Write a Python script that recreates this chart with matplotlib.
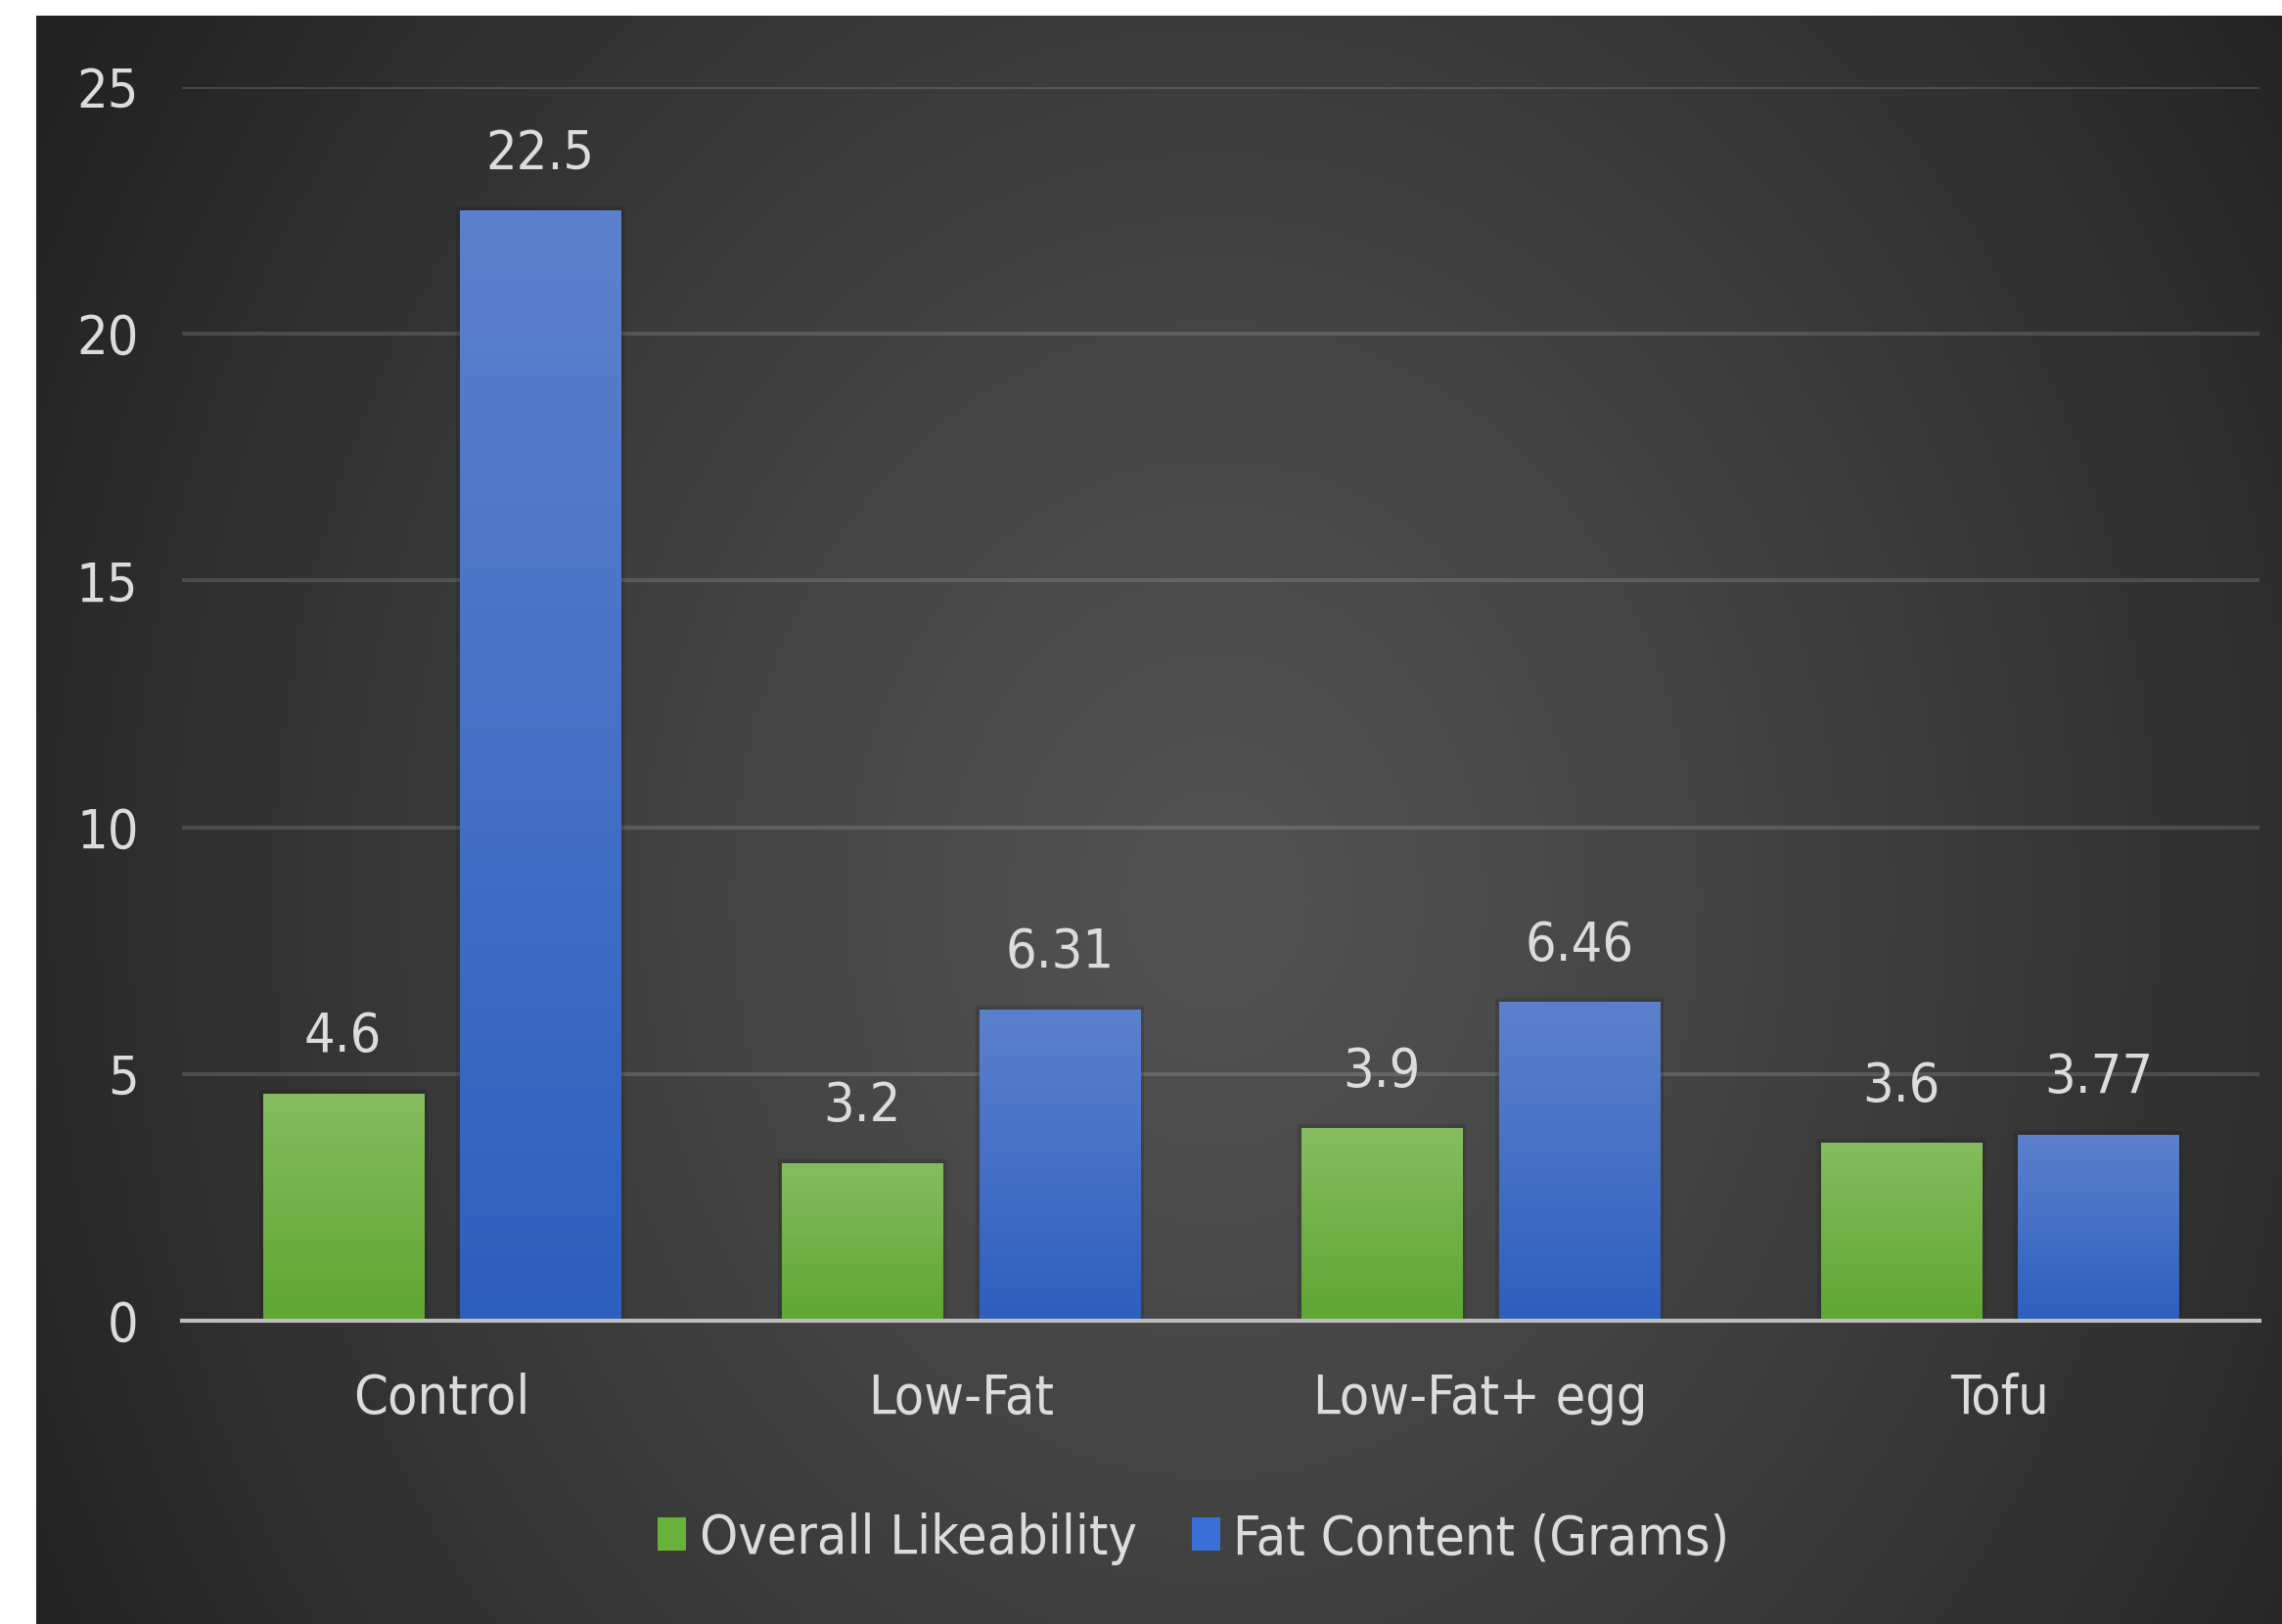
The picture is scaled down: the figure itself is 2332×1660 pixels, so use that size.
import matplotlib
matplotlib.use("agg")

from matplotlib import pyplot as plt
from matplotlib import patheffects as pe
from matplotlib import font_manager
from matplotlib.colors import LinearSegmentedColormap
from matplotlib.patches import Patch
import numpy as np

categories = ["Control", "Low-Fat", "Low-Fat+ egg", "Tofu"]
likeability = [4.6, 3.2, 3.9, 3.6]
fat_content = [22.5, 6.31, 6.46, 3.77]
series_names = ["Overall Likeability", "Fat Content (Grams)"]
yticks = [0, 5, 10, 15, 20, 25]

# narrow font if one is around
names = {f.name for f in font_manager.fontManager.ttflist}
if "Liberation Sans Narrow" in names:
    plt.rcParams['font.family'] = ['Liberation Sans Narrow', 'DejaVu Sans']
else:
    plt.rcParams['font.family'] = ['DejaVu Sans']
    plt.rcParams['font.stretch'] = 'condensed'
text_color = "#dcdcdc"
fs = 40

fig = plt.figure(figsize=(23.32, 16.6), dpi=100)
fig.patch.set_facecolor("white")

# radial background, lighter in the middle
bg = fig.add_axes([37 / 2332, 0, 1 - 37 / 2332, 1 - 16 / 1660], zorder=-5)
u = np.linspace(-1, 1, 600)
v = np.linspace(-1, 1, 430)
U, V = np.meshgrid(u, v)
r = np.sqrt((U - 0.05) ** 2 + (0.6 * (V + 0.1)) ** 2) / np.sqrt(2)
g = np.clip(82 - 58 * r ** 1.2, 34, 90) / 255.0
bg.imshow(np.dstack([g, g, g]), aspect="auto", extent=[0, 1, 0, 1], origin="lower")
bg.set_axis_off()

ax = fig.add_axes([186 / 2332, 310 / 1660, (2309 - 186) / 2332, (1350 - 89) / 1660])
ax.set_facecolor("none")

x = np.arange(len(categories))
w = 0.309
off = 0.19

green_cmap = LinearSegmentedColormap.from_list("g", ["#5fa632", "#86bc5e"])
blue_cmap = LinearSegmentedColormap.from_list("b", ["#2d5fbf", "#5c81cc"])

grad = np.linspace(0, 1, 256).reshape(-1, 1)
shadow = [pe.withStroke(linewidth=6, foreground=(0, 0, 0, 0.12))]

for vals, xs, cmap, col in [(likeability, x - off, green_cmap, "#70b045"),
                            (fat_content, x + off, blue_cmap, "#4470c4")]:
    bars = ax.bar(xs, vals, width=w, color=col, zorder=3, path_effects=shadow)
    for b, val in zip(bars, vals):
        x0 = b.get_x()
        im = ax.imshow(grad, extent=[x0, x0 + b.get_width(), 0, b.get_height()],
                       origin="lower", aspect="auto", cmap=cmap, zorder=3.5)
        im.set_clip_path(b)
        ax.annotate(f"{val:g}", (x0 + b.get_width() / 2, val), xytext=(0, 22),
                    textcoords="offset points", ha="center", va="bottom",
                    color=text_color, fontsize=fs)

ax.set_xlim(-0.5, len(categories) - 0.5)
ax.set_ylim(0, 25)
ax.set_yticks(yticks)
ax.set_xticks(x)
ax.set_xticklabels(categories)
ax.tick_params(axis="both", length=0, colors=text_color, labelsize=fs)
ax.tick_params(axis="y", pad=32)
ax.tick_params(axis="x", pad=38)
ax.yaxis.grid(True, color="#ffffff", alpha=0.14, linewidth=3)
ax.set_axisbelow(True)
for s in ["top", "right", "left"]:
    ax.spines[s].set_visible(False)
ax.spines["bottom"].set_color("#bdbdbd")
ax.spines["bottom"].set_linewidth(3)
ax.spines["bottom"].set_zorder(4)

handles = [Patch(facecolor="#66b23a"), Patch(facecolor="#3a6fd6")]
fig.legend(handles, series_names, loc="center", bbox_to_anchor=(1220 / 2332, 1 - 1573 / 1660),
           ncol=2, frameon=False, fontsize=fs, labelcolor=text_color,
           handlelength=0.52, handleheight=0.56, handletextpad=0.25, columnspacing=1.0)

fig.savefig("out.png", dpi=100)
plt.close()
